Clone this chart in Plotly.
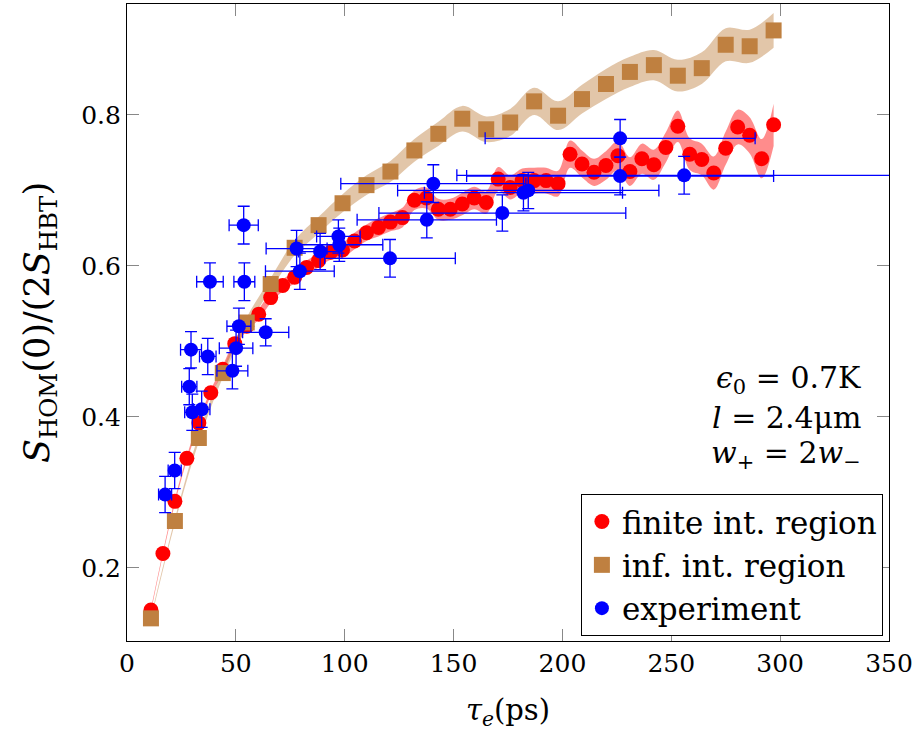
import numpy as np
import plotly.graph_objects as go

# finite interaction region (simulation)
finite_tau = [11, 16.5, 22, 27.5, 33, 38.5, 44, 49.5, 55, 60.5, 66, 71.5, 77, 82.5, 88, 93.5,
              99, 104.5, 110, 115.5, 121, 126.5, 132, 137.5, 143, 148.5, 154, 159.5, 165, 170.5,
              176, 181.5, 187, 192.5, 198, 203.5, 209, 214.5, 220, 225.5, 231, 236.5, 242, 247.5,
              253, 258.5, 264, 269.5, 275, 280.5, 286, 291.5, 297]
finite_s = [0.144, 0.219, 0.288, 0.345, 0.392, 0.432, 0.463, 0.497, 0.520, 0.536, 0.558, 0.574,
            0.585, 0.598, 0.607, 0.618, 0.621, 0.633, 0.644, 0.651, 0.658, 0.664, 0.687, 0.690,
            0.675, 0.675, 0.682, 0.690, 0.684, 0.715, 0.704, 0.713, 0.713, 0.713, 0.709, 0.748,
            0.735, 0.724, 0.733, 0.746, 0.725, 0.742, 0.734, 0.757, 0.785, 0.748, 0.741, 0.723,
            0.756, 0.784, 0.773, 0.742, 0.787]
finite_err = [0.002, 0.002, 0.003, 0.003, 0.004, 0.004, 0.005, 0.005, 0.006, 0.007, 0.007, 0.008,
              0.008, 0.009, 0.009, 0.010, 0.010, 0.011, 0.011, 0.012, 0.012, 0.013, 0.013, 0.014,
              0.014, 0.014, 0.015, 0.015, 0.015, 0.016, 0.016, 0.016, 0.017, 0.017, 0.017, 0.018,
              0.018, 0.018, 0.019, 0.019, 0.019, 0.020, 0.020, 0.020, 0.021, 0.021, 0.021, 0.022,
              0.022, 0.023, 0.024, 0.026, 0.028]

# infinite interaction region (simulation)
inf_tau = [11, 22, 33, 44, 55, 66, 77, 88, 99, 110, 121, 132, 143, 154, 165, 176, 187, 198,
           209, 220, 231, 242, 253, 264, 275, 286, 297]
inf_s = [0.133, 0.262, 0.372, 0.458, 0.525, 0.576, 0.624, 0.654, 0.683, 0.707, 0.725, 0.753,
         0.775, 0.795, 0.781, 0.790, 0.818, 0.799, 0.821, 0.841, 0.857, 0.866, 0.852, 0.862,
         0.893, 0.891, 0.912]
inf_err = [0.002, 0.003, 0.005, 0.006, 0.007, 0.008, 0.010, 0.011, 0.012, 0.013, 0.014, 0.015,
           0.016, 0.017, 0.017, 0.018, 0.018, 0.019, 0.019, 0.020, 0.020, 0.020, 0.021, 0.021,
           0.022, 0.022, 0.023]

# experiment
exp_tau = [17.5, 21.9, 28.6, 29.4, 30.0, 34.3, 37.1, 38.1, 48.4, 50.1, 51.4, 53.6, 53.9, 63.7,
           77.9, 79.4, 88.7, 97.1, 97.5, 120.8, 137.7, 140.7, 172.4, 182.1, 184.3, 226.5,
           226.5, 255.9]
exp_s = [0.297, 0.329, 0.440, 0.489, 0.406, 0.410, 0.480, 0.579, 0.461, 0.491, 0.520, 0.654,
         0.579, 0.512, 0.623, 0.593, 0.619, 0.639, 0.628, 0.610, 0.661, 0.709, 0.670, 0.697,
         0.700, 0.769, 0.719, 0.720]
exp_tau_err = [3, 3, 3.5, 4.8, 3.5, 3.8, 3.8, 6.1, 7.1, 7.7, 5.5, 6.7, 4.8, 10.6, 14, 15.8, 10,
               10, 20, 30, 32, 42.5, 56.7, 45.5, 60, 62, 70.5, 104.4]
exp_s_err = [0.024, 0.024, 0.024, 0.024, 0.024, 0.024, 0.024, 0.025, 0.024, 0.024, 0.024, 0.025,
             0.025, 0.018, 0.024, 0.024, 0.024, 0.022, 0.022, 0.025, 0.024, 0.025, 0.024, 0.024,
             0.024, 0.025, 0.025, 0.025]

FONT = "DejaVu Serif, Liberation Serif, serif"
RED = "#ff0000"
BROWN = "#bf8040"
BLUE = "#0000ff"


def band(fig, x, y, err, fillcolor):
    y = np.array(y)
    err = np.array(err)
    fig.add_trace(go.Scatter(x=x, y=y - err, mode="lines", line=dict(width=0, shape="spline"),
                             showlegend=False, hoverinfo="skip"))
    fig.add_trace(go.Scatter(x=x, y=y + err, mode="lines", line=dict(width=0, shape="spline"),
                             fill="tonexty", fillcolor=fillcolor, showlegend=False,
                             hoverinfo="skip"))


fig = go.Figure()
band(fig, finite_tau, finite_s, finite_err, "rgba(255,0,0,0.45)")
band(fig, inf_tau, inf_s, inf_err, "rgba(191,128,64,0.45)")

fig.add_trace(go.Scatter(x=finite_tau, y=finite_s, mode="markers", name="finite int. region",
                         legendgroup="a",
                         marker=dict(symbol="circle", size=15, color=RED, line=dict(width=0))))
fig.add_trace(go.Scatter(x=inf_tau, y=inf_s, mode="markers", name="inf. int. region",
                         legendgroup="b",
                         marker=dict(symbol="square", size=16, color=BROWN, line=dict(width=0))))
fig.add_trace(go.Scatter(x=exp_tau, y=exp_s, mode="markers", name="experiment",
                         legendgroup="c",
                         marker=dict(symbol="circle", size=14, color=BLUE, line=dict(width=0)),
                         error_x=dict(type="data", array=exp_tau_err, color=BLUE, thickness=1.3, width=6),
                         error_y=dict(type="data", array=exp_s_err, color=BLUE, thickness=1.3, width=6)))

for txt, yy in [("<i>ϵ</i><sub>0</sub> = 0.7K", 0.4496),
                ("<i>l</i> = 2.4μm", 0.399),
                ("<i>w</i><sub>+</sub> = 2<i>w</i><sub>−</sub>", 0.350)]:
    fig.add_annotation(x=338, y=yy, xref="x", yref="y", text=txt, showarrow=False,
                       xanchor="right", yanchor="middle", font=dict(family=FONT, size=30, color="black"))

axis_common = dict(showgrid=False, zeroline=False, showline=True, linecolor="black", linewidth=1.2,
                   mirror="allticks", ticks="inside", ticklen=12, tickcolor="#888888", tickwidth=1,
                   tickfont=dict(family=FONT, size=25, color="black"))

ytitle = "<i>S</i><sub>HOM</sub>(0)/(2<i>S</i><sub>HBT</sub>)"

fig.update_xaxes(range=[0, 350], dtick=50, tick0=0,
                 title=dict(text="<i>τ<sub>e</sub></i>(ps)", font=dict(family=FONT, size=29, color="black"),
                            standoff=22),
                 **axis_common)
fig.update_yaxes(range=[0.103, 0.947], tickvals=[0.2, 0.4, 0.6, 0.8], ticktext=["0.2", "0.4", "0.6", "0.8"],
                 title=dict(text=ytitle, font=dict(family=FONT, size=35, color="black"), standoff=20),
                 automargin=False, **axis_common)

fig.update_layout(
    width=922, height=740,
    margin=dict(l=127, r=33, t=4, b=99),
    plot_bgcolor="white", paper_bgcolor="white",
    legend=dict(x=0.992, y=0.008, xanchor="right", yanchor="bottom",
                bordercolor="black", borderwidth=1, bgcolor="white",
                font=dict(family=FONT, size=31, color="black"),
                tracegroupgap=0, traceorder="grouped", itemwidth=30),
    font=dict(family=FONT),
)

fig.write_html("out.html", post_script="document.body.style.margin='0';",
               config={"displayModeBar": False})
